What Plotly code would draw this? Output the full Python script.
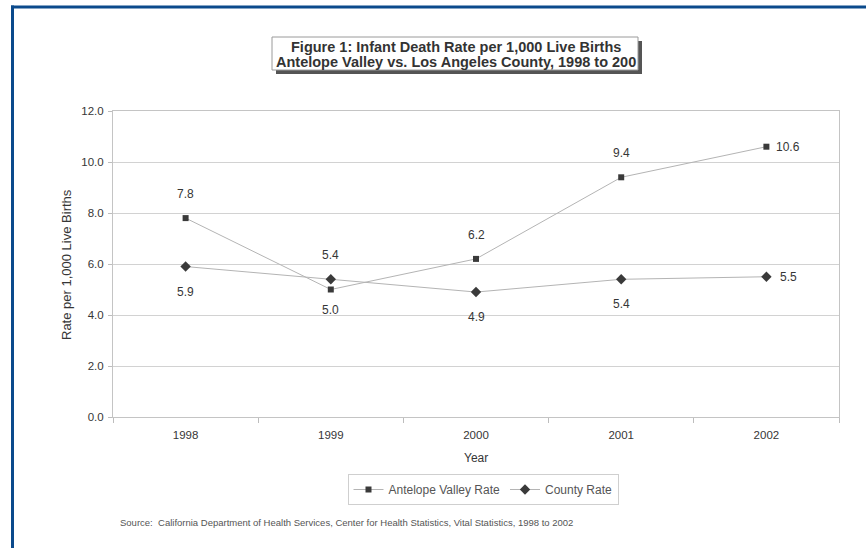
import plotly.graph_objects as go

# Chart data
years = ["1998", "1999", "2000", "2001", "2002"]
antelope_rate = [7.8, 5.0, 6.2, 9.4, 10.6]
county_rate = [5.9, 5.4, 4.9, 5.4, 5.5]
y_ticks = [0, 2, 4, 6, 8, 10, 12]

title_lines = [
    "Figure 1: Infant Death Rate per 1,000 Live Births",
    "Antelope Valley vs. Los Angeles County, 1998 to 200",
]
source_note = ("Source:  California Department of Health Services, Center for Health "
               "Statistics, Vital Statistics, 1998 to 2002")

# Label placement for each point (styling only)
av_label_pos = ["above", "below", "above", "above", "right"]
county_label_pos = ["below", "above", "below", "below", "right"]

W, H = 866, 548
L, R, T, B = 113, 839, 111, 417  # plot area in pixels
PW, PH = R - L, B - T


def px(x):
    return (x - L) / PW


def py(y):
    return (B - y) / PH


FONT = "Liberation Sans, Arial, sans-serif"
TXT = "#363636"
LINE = "#b4b4b4"
MARK = "#3a3a3a"

fig = go.Figure()
fig.add_trace(go.Scatter(
    x=years, y=antelope_rate, name="Antelope Valley Rate", mode="lines+markers",
    line=dict(color=LINE, width=1),
    marker=dict(symbol="square", size=6, color=MARK),
))
fig.add_trace(go.Scatter(
    x=years, y=county_rate, name="County Rate", mode="lines+markers",
    line=dict(color=LINE, width=1),
    marker=dict(symbol="diamond", size=8, color=MARK),
))

shift = {"above": (0, 24), "below": (0, -25), "right": (22, 0)}
annotations = []
for series, vals, poss in (("av", antelope_rate, av_label_pos),
                           ("county", county_rate, county_label_pos)):
    for i, (v, p) in enumerate(zip(vals, poss)):
        dx, dy = shift[p]
        if series == "av" and p == "below":
            dy = -20
        # category axes take the serial index of the category
        annotations.append(dict(
            x=i, y=v, xref="x", yref="y", text=f"{v:.1f}", showarrow=False,
            xshift=dx, yshift=dy, font=dict(family=FONT, size=12, color=TXT),
        ))

# Title lines inside the framed box
for i, line in enumerate(title_lines):
    annotations.append(dict(
        x=px(456), y=py(47 + i * 15.5), xref="paper", yref="paper", text=f"<b>{line}</b>",
        showarrow=False, xanchor="center", yanchor="middle",
        font=dict(family=FONT, size=14.5, color="#333333"),
    ))

# Axis titles
annotations.append(dict(
    x=px(66), y=py(265), xref="paper", yref="paper", text="Rate per 1,000 Live Births",
    textangle=-90, showarrow=False, xanchor="center", yanchor="middle",
    font=dict(family=FONT, size=13, color=TXT),
))
annotations.append(dict(
    x=px(476), y=py(458), xref="paper", yref="paper", text="Year",
    showarrow=False, xanchor="center", yanchor="middle",
    font=dict(family=FONT, size=12, color=TXT),
))
annotations.append(dict(
    x=px(118), y=py(522), xref="paper", yref="paper", text=source_note,
    showarrow=False, xanchor="left", yanchor="middle",
    font=dict(family=FONT, size=9.5, color="#555555"),
))

shapes = [
    # title box shadow and frame
    dict(type="rect", xref="paper", yref="paper", x0=px(276), x1=px(642), y0=py(41), y1=py(74),
         fillcolor="#555555", line=dict(width=0), layer="above"),
    dict(type="rect", xref="paper", yref="paper", x0=px(272), x1=px(638), y0=py(37), y1=py(70),
         fillcolor="white", line=dict(color="#9a9a9a", width=1), layer="above"),
    # page frame
    dict(type="line", xref="paper", yref="paper", x0=px(11), x1=px(866), y0=py(7), y1=py(7),
         line=dict(color="#0b4a8c", width=3)),
    dict(type="line", xref="paper", yref="paper", x0=px(12.5), x1=px(12.5), y0=py(5.5), y1=py(548),
         line=dict(color="#0b4a8c", width=3)),
]

fig.update_layout(
    width=W, height=H,
    margin=dict(l=L, r=W - R, t=T, b=H - B),
    paper_bgcolor="white", plot_bgcolor="white",
    font=dict(family=FONT, color=TXT),
    annotations=annotations, shapes=shapes,
    showlegend=True,
    legend=dict(
        orientation="h", x=px(483), y=py(474), xanchor="center", yanchor="top",
        bordercolor="#cfcfcf", borderwidth=1, bgcolor="white",
        font=dict(family=FONT, size=12, color="#555555"),
        itemwidth=30, tracegroupgap=0,
    ),
)
fig.update_xaxes(
    type="category", range=[-0.5, 4.5], tickson="boundaries",
    ticks="outside", ticklen=5, tickcolor="#bdbdbd",
    showline=True, linecolor="#c4c4c4", linewidth=1, mirror=True,
    showgrid=False, ticklabelstandoff=7,
    tickfont=dict(family=FONT, size=11.5, color=TXT),
)
fig.update_yaxes(
    range=[0, 12], tickvals=y_ticks, ticktext=[f"{v:.1f}" for v in y_ticks],
    ticks="outside", ticklen=4, tickcolor="#bdbdbd",
    showline=True, linecolor="#c4c4c4", linewidth=1, mirror=True,
    showgrid=True, gridcolor="#d2d2d2", gridwidth=1, zeroline=False,
    ticklabelstandoff=2,
    tickfont=dict(family=FONT, size=11.5, color=TXT),
)

fig.write_html("out.html")
